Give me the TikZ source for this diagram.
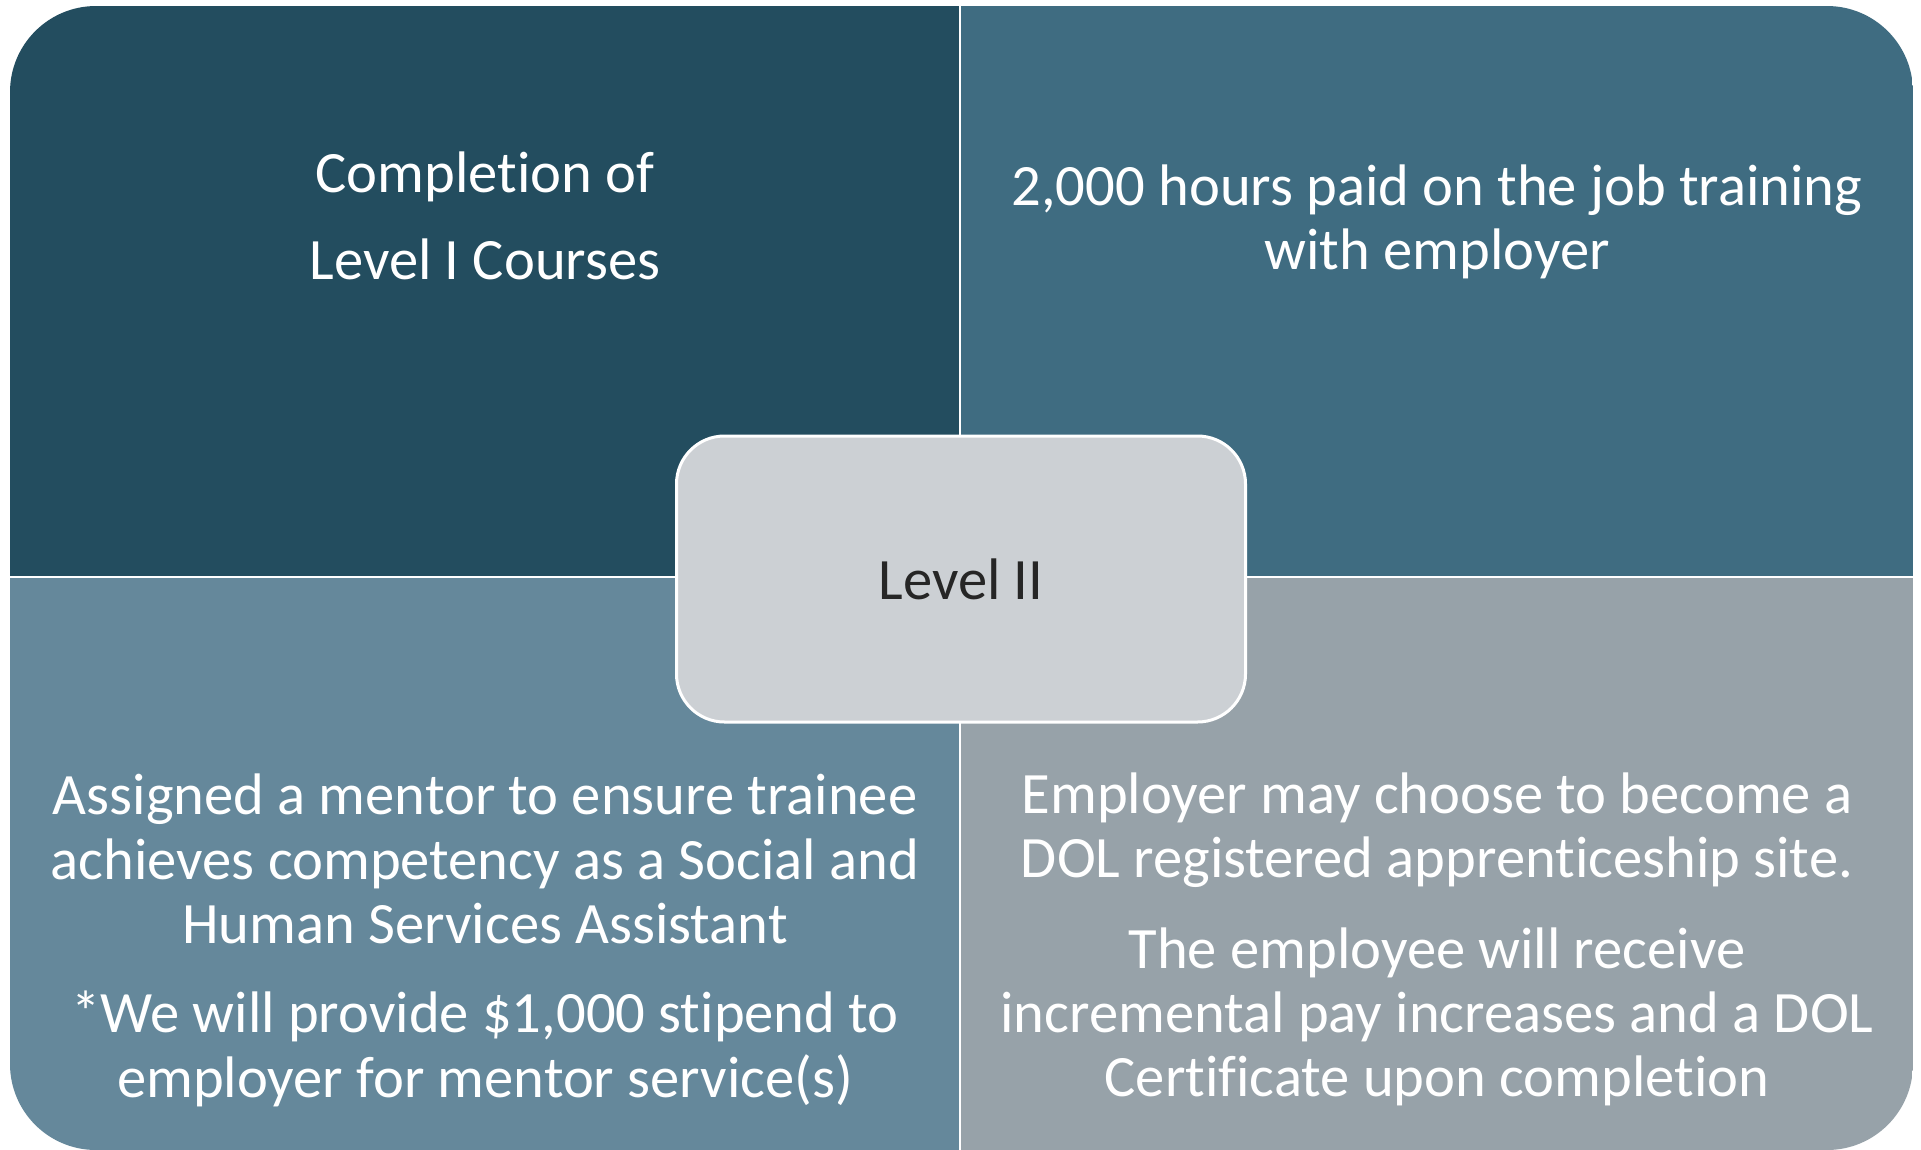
\documentclass[tikz,border=0pt]{standalone}
\usepackage{fontspec}
\setmainfont{Carlito}[Ligatures={NoCommon,NoRare}]
\definecolor{cTL}{HTML}{234D5F}
\definecolor{cTR}{HTML}{3F6C81}
\definecolor{cBL}{HTML}{65889B}
\definecolor{cBR}{HTML}{97A2A9}
\definecolor{cC}{HTML}{CCD0D4}
\definecolor{cTxt}{HTML}{262626}
\tikzset{
  txt/.style={anchor=base, inner sep=0pt, text=white, font=\fontsize{58.6}{64}\selectfont},
  center box/.style={draw=white, line width=3pt, fill=cC, rounded corners=48pt,
    minimum width=569pt, minimum height=286pt, inner sep=0pt, text=cTxt,
    font=\fontsize{58.6}{64}\selectfont}
}
\begin{document}
\begin{tikzpicture}[x=1pt,y=-1pt]
\useasboundingbox (0,0) rectangle (1921,1149);
\fill[white] (0,0) rectangle (1921,1149);
\begin{scope}
  \clip[rounded corners=86pt] (10,6) rectangle (1913,1150);
  \fill[cTL] (10,6) rectangle (960,577);
  \fill[cTR] (960,6) rectangle (1913,577);
  \fill[cBL] (10,577) rectangle (960,1150);
  \fill[cBR] (960,577) rectangle (1913,1150);
\end{scope}
\draw[white, line width=2.5pt] (960,6) -- (960,1150);
\draw[white, line width=2.5pt] (10,577) -- (1913,577);

\node[center box] (lvl) at (961,579) {Level II};

\node[txt] (tl1) at (485,192) {Completion of};
\node[txt] (tl2) at (485,279) {Level I Courses};

\node[txt] (tr1) at (1437,205) {2,000 hours paid on the job training};
\node[txt] (tr2) at (1437,269) {with employer};

\node[txt] (bl1) at (485,814) {Assigned a mentor to ensure trainee};
\node[txt] (bl2) at (485,879) {achieves competency as a Social and};
\node[txt] (bl3) at (485,943) {Human Services Assistant};
\node[txt] (bl4) at (485,1032) {*We will provide \$1,000 stipend to};
\node[txt] (bl5) at (485,1097) {employer for mentor service(s)};

\node[txt] (br1) at (1437,813) {Employer may choose to become a};
\node[txt] (br2) at (1437,877) {DOL registered apprenticeship site.};
\node[txt] (br3) at (1437,968) {The employee will receive};
\node[txt] (br4) at (1437,1032) {incremental pay increases and a DOL};
\node[txt] (br5) at (1437,1096) {Certificate upon completion};
\end{tikzpicture}
\end{document}
